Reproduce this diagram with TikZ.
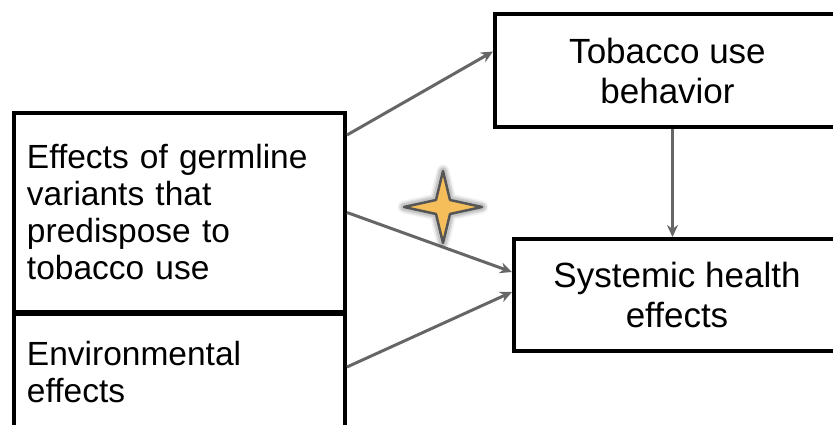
\documentclass[tikz,border=0pt]{standalone}
\usepackage{fontspec}
\setmainfont{Liberation Sans}
\usepackage{xcolor}
\definecolor{linkgray}{RGB}{102,102,102}
\definecolor{stargold}{RGB}{246,190,90}
\definecolor{staredge}{RGB}{85,85,85}
\usepackage{tikz}
\usetikzlibrary{positioning,arrows.meta,calc}

\tikzset{
  factor/.style={draw=black,line width=4pt,fill=white,align=left,text width=305pt,
        inner xsep=13pt,inner ysep=0pt,anchor=north west,font=\fontsize{33.5}{37}\selectfont},
  outcome/.style={draw=black,line width=4pt,fill=white,align=center,inner sep=0pt,
        anchor=north west,font=\fontsize{35}{40}\selectfont},
  link/.style={draw=linkgray,line width=3pt,-{Stealth[length=12pt,width=11pt]}}
}

\begin{document}
\begin{tikzpicture}[x=1pt,y=1pt]
  \useasboundingbox (0,0) rectangle (833,425);
  \clip (0,0) rectangle (833,425);

  % left column: causes
  \node[factor,minimum height=199pt] (germ) at (12,314) {Effects of germline\\variants that\\predispose to\\tobacco use};
  \node[factor,minimum height=117pt] (env) at (12,113) {Environmental\\effects};

  % right column: behaviour and outcome
  \node[outcome,minimum width=345pt,minimum height=113pt] (tob) at (493,413) {Tobacco use\\behavior};
  \node[outcome,minimum width=326pt,minimum height=112pt] (sys) at (512,188) {Systemic health\\effects};

  % connectors
  \draw[link] ([yshift=-24pt]germ.north east) -- ([yshift=19pt]tob.west);
  \draw[link] (germ.east) -- ([yshift=23pt]sys.west);
  \draw[link] ([yshift=-55pt]env.north east) -- ([yshift=3pt]sys.west);
  \draw[link] ([xshift=5pt]tob.south) -- ([xshift=5pt]tob.south |- sys.north);

  % star marking the germline path
  \coordinate (star) at (443,218);
  \foreach \w/\op in {13/0.08,10/0.12,7/0.18}
    \draw[staredge,line width=\w pt,opacity=\op,line join=round,shift={(star)}]
      (39,0) -- (7,7) -- (0,36) -- (-7,7) -- (-39,0) -- (-7,-7) -- (0,-36) -- (7,-7) -- cycle;
  \draw[staredge,fill=stargold,line width=2.5pt,line join=round,shift={(star)}]
      (39,0) -- (7,7) -- (0,36) -- (-7,7) -- (-39,0) -- (-7,-7) -- (0,-36) -- (7,-7) -- cycle;
\end{tikzpicture}
\end{document}
